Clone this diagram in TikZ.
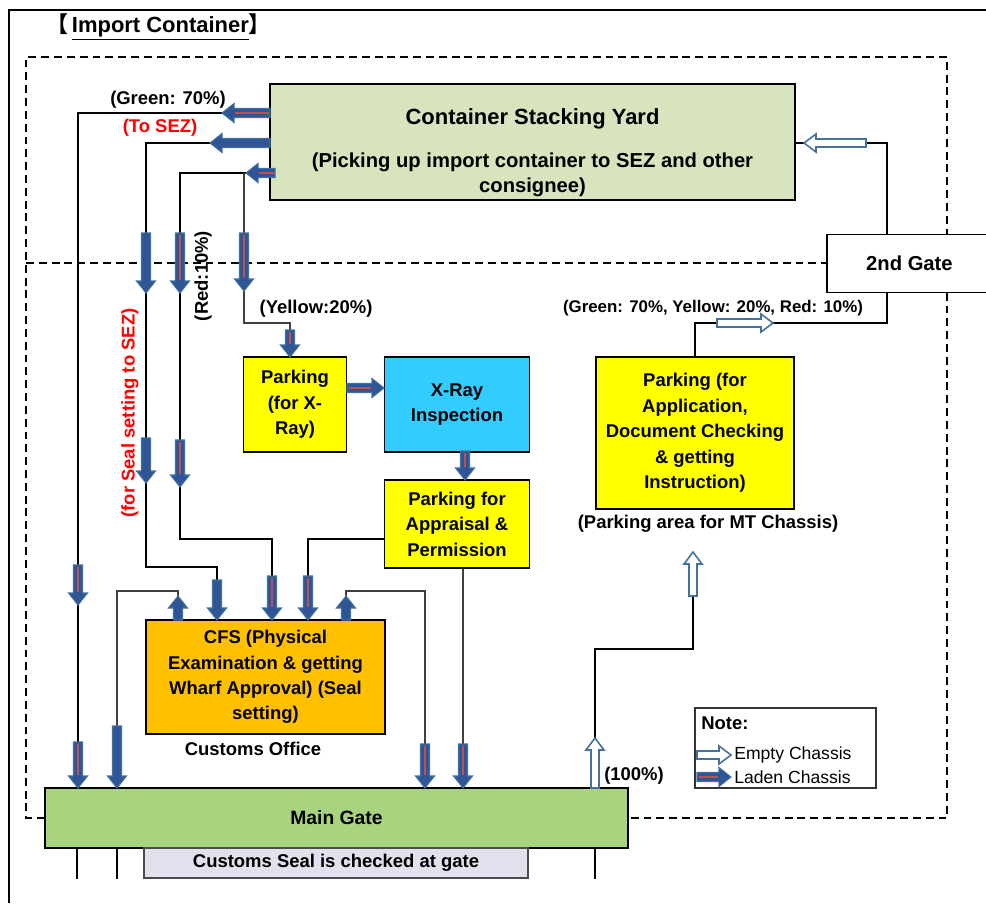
\documentclass[tikz,border=0pt]{standalone}
\usepackage{fontspec}
\setmainfont{Liberation Sans}
\newfontfamily\cjk{Noto Sans CJK JP}
\usetikzlibrary{arrows.meta, positioning}
\definecolor{yardgreen}{HTML}{D7E4BD}
\definecolor{gategreen}{HTML}{A9D47F}
\definecolor{parkyellow}{HTML}{FFFF00}
\definecolor{xraycyan}{HTML}{33CCFF}
\definecolor{cfsorange}{HTML}{FFC000}
\definecolor{seallav}{HTML}{E4DFEC}
\definecolor{arrblue}{HTML}{2F5597}
\definecolor{arredge}{HTML}{41719C}
\definecolor{ladenred}{HTML}{C0504D}
\definecolor{sezred}{HTML}{FF0000}
\tikzset{
	ibox/.style={draw=black, line width=1.1pt, align=center, inner sep=2pt,
		font=\fontsize{10.5}{14.5}\selectfont\bfseries},
	lbl/.style={font=\fontsize{10.5}{12}\selectfont\bfseries, inner sep=0pt},
	redlbl/.style={lbl, text=sezred},
	flow/.style={line width=1pt},
	thinflow/.style={line width=0.75pt, draw=black!75},
	dashline/.style={line width=1.1pt, dash pattern=on 4.5pt off 2.8pt},
	pics/laden/.style={code={
		\filldraw[draw=arredge, fill=arrblue, line width=0.6pt]
			(0,-4.5) -- (#1-12,-4.5) -- (#1-12,-9.5) -- (#1,0) -- (#1-12,9.5) -- (#1-12,4.5) -- (0,4.5) -- cycle;
		\draw[draw=ladenred, line width=1.6pt] (1.5,0) -- (#1-13,0);
	}},
	pics/bluearr/.style={code={
		\filldraw[draw=arredge, fill=arrblue, line width=0.6pt]
			(0,-4.5) -- (#1-12,-4.5) -- (#1-12,-9.5) -- (#1,0) -- (#1-12,9.5) -- (#1-12,4.5) -- (0,4.5) -- cycle;
	}},
	pics/emptyarr/.style={code={
		\filldraw[draw=arredge, fill=white, line width=0.9pt]
			(0,-4) -- (#1-12,-4) -- (#1-12,-9) -- (#1,0) -- (#1-12,9) -- (#1-12,4) -- (0,4) -- cycle;
	}}
}

\begin{document}
\begin{tikzpicture}[x=0.02cm, y=-0.02cm]
	\useasboundingbox (0,0) rectangle (986,903);
	% frame and zones
	\draw[line width=1pt] (9,903) -- (9,10) -- (986,10);
	\draw[dashline] (45,818) -- (26,818) -- (26,57) -- (947,57) -- (947,818) -- (628,818);
	\draw[dashline] (26,263) -- (826,263);
	\node[anchor=west, inner sep=0pt, font=\fontsize{12.5}{14}\selectfont\bfseries] (title) at (46,27)
		{{\cjk 【}\,\underline{Import Container}{\cjk 】}};

	% boxes
	\node[ibox, fill=yardgreen, minimum width=10.5cm, minimum height=2.32cm,
		font=\fontsize{11.5}{14.5}\selectfont\bfseries] (yard) at (532.5,142)
		{\fontsize{12.5}{15}\selectfont\rule{0pt}{21pt}Container Stacking Yard\\[10pt]
		 (Picking up import container to SEZ and other\\consignee)};
	\node[ibox, fill=white, anchor=west, minimum width=3.3cm, minimum height=1.16cm,
		font=\fontsize{11.5}{14}\selectfont\bfseries] (gate2) at (826,263.5) {2nd Gate};
	\node[ibox, fill=parkyellow, minimum width=2.06cm, minimum height=1.9cm] (pxray) at (295,404.5)
		{Parking\\(for X-\\Ray)};
	\node[ibox, fill=xraycyan, minimum width=2.9cm, minimum height=1.9cm] (xray) at (457,404.5)
		{X-Ray\\Inspection};
	\node[ibox, fill=parkyellow, minimum width=2.9cm, minimum height=1.76cm] (papp) at (457,524)
		{Parking for\\Appraisal \&\\Permission};
	\node[ibox, fill=parkyellow, minimum width=3.96cm, minimum height=3.04cm] (pmt) at (695,433)
		{Parking (for\\Application,\\Document Checking\\\& getting\\Instruction)};
	\node[ibox, fill=cfsorange, minimum width=4.78cm, minimum height=2.28cm] (cfs) at (265.5,677)
		{CFS (Physical\\Examination \& getting\\Wharf Approval) (Seal\\setting)};
	\node[ibox, fill=gategreen, minimum width=11.66cm, minimum height=1.2cm,
		font=\fontsize{11}{14}\selectfont\bfseries] (gate) at (336.5,818) {Main Gate};
	\node[ibox, fill=seallav, draw=black!70, line width=0.8pt, minimum width=7.68cm,
		minimum height=0.6cm] (seal) at (336,863) {Customs Seal is checked at gate};
	\node[draw=black!80, line width=0.9pt, minimum width=3.62cm, minimum height=1.6cm] (note) at (785.5,748) {};

	% labels
	\node[lbl] (lgreen) at (168,100) {(Green: 70\%)};
	\node[redlbl] (ltosez) at (160,128) {(To SEZ)};
	\node[redlbl, rotate=90] (lseal) at (130,413) {(for Seal setting to SEZ)};
	\node[lbl, rotate=90] (lred) at (203,276) {(Red:10\%)};
	\node[lbl] (lyellow) at (316,309) {(Yellow:20\%)};
	\node[lbl, font=\fontsize{9.6}{11}\selectfont\bfseries] (lmix) at (713,308) {(Green: 70\%, Yellow: 20\%, Red: 10\%)};
	\node[lbl] (lmt) at (708,524) {(Parking area for MT Chassis)};
	\node[lbl] (lcustoms) at (253,749) {Customs Office};
	\node[lbl] (lfull) at (634,776) {(100\%)};
	\node[lbl, anchor=west] (lnote) at (701,723) {Note:};
	\node[anchor=west, inner sep=0pt, font=\fontsize{10}{12}\selectfont] (lempty) at (734,755) {Empty Chassis};
	\node[anchor=west, inner sep=0pt, font=\fontsize{10}{12}\selectfont] (lladen) at (734,777) {Laden Chassis};

	% flows out of the yard
	\draw[flow] (yard.west |- 0,113) -| (gate.north -| 78,0);
	\draw[flow] (yard.west |- 0,143) -| (146,567) -| (cfs.north -| 217,0);
	\draw[flow] (yard.west |- 0,173) -| (180,539) -| (cfs.north -| 272,0);
	\coordinate (ysplit) at (244,173);
	\draw[thinflow] (ysplit) |- (290,323) -- (pxray.north -| 290,0);
	% x-ray route
	\draw[flow] (pxray.east |- 0,388) -- (xray.west |- 0,388);
	\draw[flow] (xray.south -| 465,0) -- (papp.north -| 465,0);
	\draw[flow] (papp.west |- 0,539) -| (cfs.north -| 308,0);
	\draw[thinflow] (papp.south -| 463,0) -- (gate.north -| 463,0);
	% CFS to main gate
	\draw[thinflow] (cfs.north -| 178,0) |- (117,591) -- (gate.north -| 117,0);
	\draw[thinflow] (cfs.north -| 346,0) |- (425,591) -- (gate.north -| 425,0);
	% empty chassis return
	\coordinate (mtin) at (693,552);
	\draw[flow] (gate.north -| 595,0) |- (693,649) -- (mtin);
	\draw[flow] (pmt.north -| 695,0) |- (887,323) -- (gate2.south -| 887,0);
	\draw[flow] (gate2.north -| 887,0) |- (yard.east |- 0,143);
	% leaving the main gate
	\draw[flow] (gate.south -| 77,0) -- ++(0,30);
	\draw[flow] (gate.south -| 117,0) -- ++(0,30);
	\draw[flow] (gate.south -| 595,0) -- ++(0,30);

	% chassis arrows
	\pic[rotate=180] at (270,113) {laden=48};
	\pic[rotate=180] at (270,143) {bluearr=60};
	\pic[rotate=180] at (275,173) {laden=29};
	\pic[rotate=180] at (866,143) {emptyarr=62};
	\pic[rotate=-90] at (78,565) {laden=40};
	\pic[rotate=-90] at (78,742) {laden=46};
	\pic[rotate=-90] at (146,233) {bluearr=60};
	\pic[rotate=-90] at (146,438) {bluearr=45};
	\pic[rotate=-90] at (180,233) {laden=60};
	\pic[rotate=-90] at (180,440) {laden=47};
	\pic[rotate=-90] at (244,233) {laden=58};
	\pic[rotate=-90] at (290,330) {laden=27};
	\pic at (347,388) {laden=37};
	\pic[rotate=-90] at (465,451) {laden=29};
	\pic[rotate=-90] at (217,580) {bluearr=40};
	\pic[rotate=-90] at (272,576) {laden=44};
	\pic[rotate=-90] at (308,576) {laden=44};
	\pic[rotate=90] at (178,620) {bluearr=24};
	\pic[rotate=90] at (346,620) {bluearr=24};
	\pic[rotate=-90] at (117,726) {bluearr=62};
	\pic[rotate=-90] at (425,744) {laden=44};
	\pic[rotate=-90] at (463,744) {laden=44};
	\pic[rotate=90] at (595,788) {emptyarr=50};
	\pic[rotate=90] at (693,596) {emptyarr=44};
	\pic at (717,323) {emptyarr=56};
	\pic at (697,755) {emptyarr=34};
	\pic at (697,777) {laden=34};
\end{tikzpicture}
\end{document}
